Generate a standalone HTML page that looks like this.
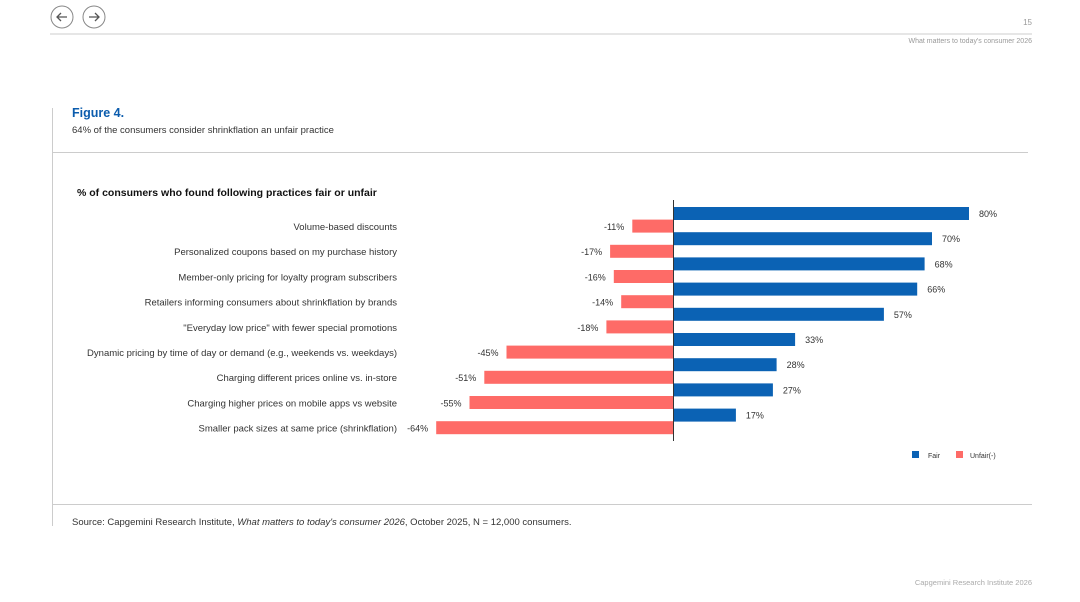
<!DOCTYPE html>
<html><head><meta charset="utf-8"><style>
body{margin:0;width:1080px;height:602px;background:#fff;font-family:"Liberation Sans",sans-serif;overflow:hidden;position:relative}
.a{position:absolute;white-space:nowrap}
</style></head><body>
<svg width="1080" height="602" style="position:absolute;left:0;top:0">
<circle cx="62" cy="17" r="11" fill="none" stroke="#888" stroke-width="1"/>
<path d="M67 17H57M61 13L57 17L61 21" fill="none" stroke="#555" stroke-width="1.3"/>
<circle cx="94" cy="17" r="11" fill="none" stroke="#888" stroke-width="1"/>
<path d="M89 17H99M95 13L99 17L95 21" fill="none" stroke="#555" stroke-width="1.3"/>
<line x1="50" y1="34" x2="1032" y2="34" stroke="#ccc"/>
<line x1="52.5" y1="108" x2="52.5" y2="526" stroke="#ccc"/>
<line x1="52" y1="152.5" x2="1028" y2="152.5" stroke="#ccc"/>
<line x1="52" y1="504.5" x2="1032" y2="504.5" stroke="#ccc"/>
</svg>
<div class="a" style="right:48px;top:18px;font-size:8px;color:#999">15</div>
<div class="a" style="right:48px;top:38px;font-size:7px;color:#999">What matters to today's consumer 2026</div>
<div class="a" style="left:72px;top:106px;font-size:12.5px;font-weight:bold;color:#0b5cad">Figure 4.</div>
<div class="a" style="left:72px;top:125px;font-size:9.5px;color:#333">64% of the consumers consider shrinkflation an unfair practice</div>
<div class="a" style="left:77px;top:187px;font-size:10.5px;font-weight:bold;color:#111">% of consumers who found following practices fair or unfair</div>
<div class="a" style="left:72px;top:517px;font-size:9.5px;color:#333">Source: Capgemini Research Institute, <i>What matters to today's consumer 2026</i>, October 2025, N = 12,000 consumers.</div>
<div class="a" style="right:48px;top:578px;font-size:7.5px;color:#aaa">Capgemini Research Institute 2026</div>
<svg id="chart" width="1080" height="602" style="position:absolute;left:0;top:0"></svg>
<script>
const categories=["Volume-based discounts","Personalized coupons based on my purchase history","Member-only pricing for loyalty program subscribers","Retailers informing consumers about shrinkflation by brands","\"Everyday low price\" with fewer special promotions","Dynamic pricing by time of day or demand (e.g., weekends vs. weekdays)","Charging different prices online vs. in-store","Charging higher prices on mobile apps vs website","Smaller pack sizes at same price (shrinkflation)"];
const fair=[80,70,68,66,57,33,28,27,17];
const unfair=[-11,-17,-16,-14,-18,-45,-51,-55,-64];
const svg=document.getElementById('chart');const NS='http://www.w3.org/2000/svg';
const x0=673,k=3.7;const xs=v=>x0+v*k;const yb=i=>207+i*25.2;
function mk(t,a,txt){const e=document.createElementNS(NS,t);for(const n in a)e.setAttribute(n,a[n]);if(txt!=null)e.textContent=txt;svg.appendChild(e);return e;}
categories.forEach((c,i)=>{
 const b=mk('rect',{x:x0,y:yb(i),width:xs(fair[i])-x0,height:13,fill:'#0b62b4'});
 
 
 const t=mk('text',{x:xs(fair[i])+10,y:yb(i)+10,'font-size':9,fill:'#333'},fair[i]+'%');
 
 
 const r=mk('rect',{x:xs(unfair[i]),y:yb(i)+12.6,width:x0-xs(unfair[i]),height:13,fill:'#fe6b67'});
 
 
 const u=mk('text',{x:xs(unfair[i])-8,y:yb(i)+23,'font-size':9,fill:'#333','text-anchor':'end'},unfair[i]+'%');
 
 
 const l=mk('text',{x:397,y:yb(i)+23,'font-size':9.5,fill:'#333','text-anchor':'end'},c);
 
 
});
const ax=mk('line',{x1:x0+.5,y1:200,x2:x0+.5,y2:441,stroke:'#333','stroke-width':1});


const g1=mk('rect',{x:912,y:451,width:7,height:7,fill:'#0b62b4'});


const g2=mk('text',{x:928,y:458,'font-size':7,fill:'#333'},'Fair');


const g3=mk('rect',{x:956,y:451,width:7,height:7,fill:'#fe6b67'});


const g4=mk('text',{x:970,y:458,'font-size':7,fill:'#333'},'Unfair(-)');


</script>
</body></html>
